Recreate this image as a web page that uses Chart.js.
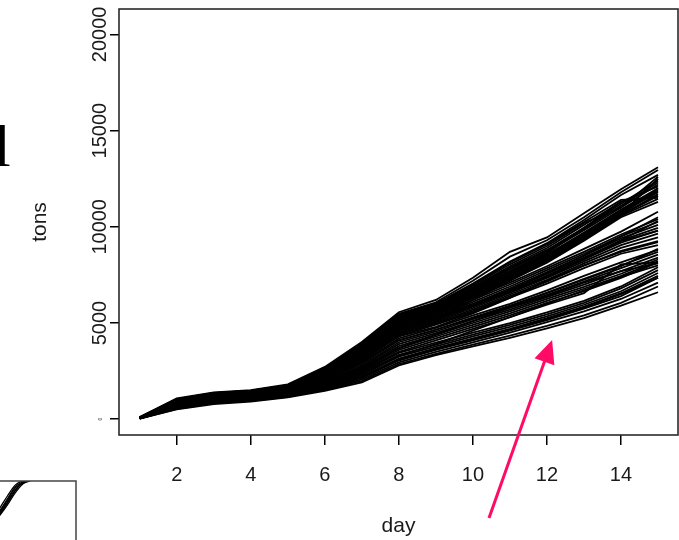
<!DOCTYPE html>
<html>
<head>
<meta charset="utf-8">
<script src="https://cdn.jsdelivr.net/npm/chart.js@4.4.1/dist/chart.umd.min.js"></script>
<style>
  html, body { margin: 0; padding: 0; background: #fff; }
  #wrap { position: relative; width: 679px; height: 540px; overflow: hidden; background: #fff; }
  #main { position: absolute; left: 0; top: 0; }
  #inset { position: absolute; left: 0; top: 479px; }
  #heading { position: absolute; left: -6px; top: 116px; font-family: "Liberation Serif", serif;
             font-size: 60px; line-height: 60px; color: #000; white-space: nowrap; }
</style>
</head>
<body>
<div id="wrap">
  <div id="heading">l</div>
  <canvas id="main" width="679" height="540"></canvas>
  <canvas id="inset" width="77" height="61"></canvas>
</div>
<script>
// Cumulative tons per day, one array per simulated run.
const days = [1, 2, 3, 4, 5, 6, 7, 8, 9, 10, 11, 12, 13, 14, 15];
const xTicks = [2, 4, 6, 8, 10, 12, 14];
const yTicks = [0, 5000, 10000, 15000, 20000];
const yTickLabels = ['0', '5000', '10000', '15000', '20000'];

// Fast-growing runs (upper bundle)
const upperRuns = [
  [110, 1080, 1400, 1510, 1810, 2720, 4020, 5560, 6200, 7350, 8700, 9450, 10700, 11950, 13100],
  [100, 1050, 1370, 1490, 1770, 2650, 3950, 5480, 6080, 7200, 8450, 9300, 10500, 11800, 12950],
  [95, 1040, 1360, 1480, 1760, 2610, 3900, 5450, 6010, 7050, 8200, 9150, 10350, 11650, 12700],
  [90, 1010, 1340, 1470, 1740, 2590, 3870, 5420, 5960, 6950, 8050, 9000, 10200, 11000, 12600],
  [85, 1000, 1330, 1450, 1730, 2560, 3820, 5380, 5920, 6880, 7950, 8900, 10100, 11300, 11600],
  [85, 980, 1320, 1440, 1710, 2540, 3790, 5330, 5880, 6800, 7880, 8800, 9950, 11200, 12400],
  [80, 970, 1300, 1430, 1700, 2510, 3760, 5300, 5830, 6750, 7800, 8750, 9900, 11100, 12300],
  [80, 960, 1290, 1420, 1690, 2490, 3730, 5270, 5800, 6700, 7720, 8680, 9820, 11000, 12200],
  [75, 950, 1290, 1410, 1680, 2470, 3710, 5230, 5760, 6650, 7680, 8620, 9950, 11300, 12100],
  [75, 940, 1280, 1400, 1670, 2450, 3690, 5200, 5720, 6600, 7620, 8560, 9700, 10900, 12000],
  [70, 930, 1270, 1400, 1660, 2430, 3660, 5160, 5680, 6560, 7560, 8500, 9640, 10850, 11900],
  [70, 920, 1260, 1390, 1650, 2410, 3640, 5120, 5640, 6520, 7500, 8440, 9580, 10780, 11850],
  [65, 910, 1250, 1380, 1640, 2390, 3610, 5080, 5600, 6480, 7440, 8380, 9520, 10720, 11800],
  [65, 900, 1240, 1370, 1630, 2370, 3590, 5040, 5560, 6430, 7380, 8320, 9460, 10660, 12500],
  [60, 890, 1230, 1360, 1620, 2350, 3560, 5000, 5520, 6390, 7320, 8260, 9400, 10600, 11600],
  [60, 880, 1220, 1350, 1610, 2330, 3540, 4970, 5480, 6350, 7260, 8200, 9340, 10560, 11450],
  [55, 870, 1210, 1350, 1600, 2310, 3510, 4940, 5440, 6300, 7200, 8140, 9280, 10500, 11300],
  [100, 1030, 1350, 1460, 1750, 2600, 3880, 5440, 5990, 7000, 8150, 9100, 10250, 11400, 11500]
];

// Runs in the middle of the spread
const middleRuns = [
  [95, 990, 1300, 1400, 1700, 2400, 3500, 4900, 5500, 6300, 7100, 7950, 8850, 9750, 10780],
  [90, 960, 1280, 1380, 1670, 2350, 3420, 4820, 5420, 6200, 7000, 7850, 8700, 9600, 10400],
  [90, 940, 1260, 1360, 1640, 2300, 3350, 4750, 5350, 6100, 6900, 7750, 8600, 9500, 10250],
  [85, 910, 1240, 1340, 1610, 2250, 3300, 4680, 5280, 6000, 6800, 7650, 8500, 9400, 10100],
  [80, 890, 1220, 1320, 1590, 2210, 3250, 4620, 5220, 5920, 6720, 7550, 8400, 9300, 9950],
  [80, 870, 1200, 1300, 1570, 2170, 3200, 4560, 5160, 5850, 6640, 7450, 8300, 9180, 9800],
  [75, 850, 1180, 1290, 1550, 2130, 3150, 4500, 5100, 5780, 6560, 7350, 8200, 9050, 9650],
  [70, 830, 1160, 1270, 1530, 2090, 3100, 4440, 5040, 5700, 6480, 7250, 8100, 8900, 9450],
  [70, 810, 1140, 1250, 1510, 2050, 3050, 4380, 4980, 5620, 6400, 7150, 7980, 8750, 9250],
  [65, 790, 1120, 1230, 1490, 2010, 3000, 4320, 4920, 5550, 6320, 7050, 7850, 8600, 9050]
];

// Slower runs
const slowRuns = [
  [70, 800, 1120, 1240, 1480, 2000, 2950, 4200, 4750, 5400, 6000, 6700, 7450, 8150, 8800],
  [65, 780, 1100, 1220, 1460, 1960, 2880, 4100, 4650, 5300, 5900, 6580, 7300, 8000, 8700],
  [60, 760, 1080, 1200, 1440, 1920, 2800, 4000, 4560, 5200, 5800, 6460, 7150, 7850, 8550],
  [60, 740, 1060, 1180, 1420, 1880, 2740, 3900, 4470, 5100, 5700, 6350, 7000, 7700, 8400],
  [55, 720, 1040, 1160, 1400, 1850, 2680, 3800, 4380, 5000, 5600, 6250, 6880, 7560, 8300],
  [55, 700, 1020, 1140, 1380, 1820, 2620, 3700, 4300, 4900, 5500, 6150, 6780, 7450, 8200],
  [50, 680, 1000, 1120, 1360, 1790, 2560, 3600, 4200, 4800, 5400, 6050, 6650, 7350, 8150],
  [50, 660, 980, 1100, 1340, 1760, 2500, 3500, 4100, 4700, 5300, 5950, 6550, 8050, 8150]
];

// Slowest runs (lower edge)
const lowestRuns = [
  [50, 700, 960, 1080, 1300, 1720, 2450, 3450, 3980, 4500, 5000, 5550, 6150, 6900, 7900],
  [45, 680, 940, 1060, 1280, 1690, 2380, 3350, 3880, 4400, 4900, 5450, 6050, 6800, 7750],
  [45, 650, 920, 1040, 1260, 1660, 2300, 3250, 3780, 4300, 4800, 5350, 5950, 6650, 7600],
  [40, 620, 900, 1020, 1240, 1630, 2220, 3150, 3700, 4200, 4700, 5250, 5850, 6550, 7450],
  [40, 600, 880, 1000, 1220, 1600, 2150, 3050, 3600, 4100, 4600, 5150, 5750, 6400, 7350],
  [35, 570, 850, 980, 1190, 1560, 2070, 2950, 3500, 4000, 4500, 5050, 5600, 6250, 7100],
  [35, 540, 820, 950, 1160, 1520, 1990, 2870, 3400, 3880, 4350, 4850, 5400, 6050, 6900],
  [30, 510, 790, 920, 1130, 1480, 1920, 2800, 3330, 3780, 4230, 4720, 5250, 5900, 6600]
];

// Runs that change pace and cross the other bundles
const crossingRuns = [
  [60, 850, 1180, 1300, 1560, 2200, 3300, 4700, 5300, 6200, 7200, 8200, 9300, 10600, 12000],
  [90, 1000, 1330, 1450, 1720, 2500, 3650, 4900, 5300, 5900, 6600, 7400, 8300, 9300, 10300],
  [70, 880, 1200, 1310, 1560, 2150, 3100, 4300, 4800, 5500, 6300, 7200, 8000, 8700, 9200],
  [50, 700, 1000, 1120, 1350, 1800, 2600, 3700, 4400, 5100, 5800, 6400, 7100, 7700, 8100],
  [40, 620, 900, 1020, 1240, 1650, 2300, 3300, 3900, 4600, 5300, 6000, 6700, 7400, 8000],
  [80, 940, 1270, 1390, 1650, 2380, 3500, 4800, 5350, 6000, 6700, 7600, 8500, 9500, 10500],
  [85, 960, 1290, 1400, 1680, 2450, 3600, 5050, 5650, 6500, 7350, 8300, 9400, 10600, 11700],
  [65, 800, 1130, 1250, 1500, 2050, 2950, 4100, 4650, 5250, 5850, 6550, 7250, 7950, 8850],
  [45, 580, 860, 990, 1200, 1580, 2200, 3100, 3650, 4150, 4650, 5200, 5800, 6500, 7350],
  [75, 920, 1250, 1370, 1630, 2300, 3400, 4650, 5200, 5900, 6650, 7450, 8350, 9250, 9800]
];

// Pointer arrow, in (day, tons)
const arrowTail = [10.435, -5135];
const arrowTip = [12.14, 4116];

// Corner of the neighbouring panel
const insetX = [-1, 0, 1, 2, 3, 4];
const insetRuns = [
  [3.0, 4.6, 6.5, 8.5, 9.7, 10.4],
  [3.4, 5.0, 7.0, 9.0, 9.9, 10.5],
  [3.8, 5.5, 7.5, 9.3, 10.1, 10.6],
  [2.6, 4.2, 6.0, 8.0, 9.5, 10.3],
  [3.2, 4.8, 6.8, 8.8, 9.6, 10.0],
  [2.9, 4.4, 6.3, 8.3, 9.8, 10.2]
];

const FAMILY = '"Liberation Sans", Arial, Helvetica, sans-serif';
const TEXT = '#1a1a1a';
const TICK_SIZE = 20;

const allRuns = [...upperRuns, ...middleRuns, ...slowRuns, ...lowestRuns, ...crossingRuns];
const datasets = allRuns.map((run, i) => ({
  label: 'run ' + (i + 1),
  data: run.map((v, j) => ({ x: days[j], y: v })),
  borderColor: '#000',
  borderWidth: 1.8,
  pointRadius: 0,
  tension: 0,
  fill: false
}));

// keep rotated y labels centred about 100px from the left edge
const m = document.createElement('canvas').getContext('2d');
m.font = TICK_SIZE + 'px ' + FAMILY;
const widest = m.measureText('20000').width;
const yTickLen = 9;
const yPad = 119 - 100.5 - widest / 2 - yTickLen;

const framePlugin = {
  id: 'frame',
  afterDatasetsDraw(chart) {
    const { ctx, chartArea: a } = chart;
    ctx.save();
    ctx.strokeStyle = '#2a2a2a';
    ctx.lineWidth = 1.6;
    ctx.strokeRect(a.left, a.top, a.right - a.left, a.bottom - a.top);
    ctx.restore();
  }
};

const arrowPlugin = {
  id: 'arrow',
  afterDraw(chart) {
    const { ctx, scales: { x, y } } = chart;
    const x1 = x.getPixelForValue(arrowTail[0]), y1 = y.getPixelForValue(arrowTail[1]);
    const x2 = x.getPixelForValue(arrowTip[0]), y2 = y.getPixelForValue(arrowTip[1]);
    const dx = x2 - x1, dy = y2 - y1, len = Math.hypot(dx, dy);
    const ux = dx / len, uy = dy / len;
    const headLen = 23, headHalf = 10.5;
    const bx = x2 - ux * headLen, by = y2 - uy * headLen;
    ctx.save();
    ctx.strokeStyle = '#ff0a64';
    ctx.fillStyle = '#ff0a64';
    ctx.lineWidth = 3;
    ctx.beginPath();
    ctx.moveTo(x1, y1);
    ctx.lineTo(bx + ux * 2, by + uy * 2);
    ctx.stroke();
    ctx.beginPath();
    ctx.moveTo(x2, y2);
    ctx.lineTo(bx - uy * headHalf, by + ux * headHalf);
    ctx.lineTo(bx + uy * headHalf, by - ux * headHalf);
    ctx.closePath();
    ctx.fill();
    ctx.restore();
  }
};

new Chart(document.getElementById('main'), {
  type: 'line',
  data: { datasets },
  plugins: [framePlugin, arrowPlugin],
  options: {
    responsive: false,
    animation: false,
    devicePixelRatio: 1,
    layout: { padding: { top: 9, right: 1, left: 0, bottom: 0 } },
    plugins: { legend: { display: false }, tooltip: { enabled: false } },
    scales: {
      x: {
        type: 'linear',
        min: 0.44,
        max: 15.54,
        position: 'bottom',
        afterBuildTicks(s) { s.ticks = xTicks.map(v => ({ value: v })); },
        afterFit(s) { s.height = 105; s.paddingLeft = 0; s.paddingRight = 0; },
        grid: { display: true, drawOnChartArea: false, drawTicks: true, tickLength: 10, color: '#000', lineWidth: 1.5 },
        border: { display: false },
        ticks: {
          padding: 18,
          color: TEXT,
          maxRotation: 0,
          autoSkip: false,
          font: { family: FAMILY, size: TICK_SIZE },
          callback: v => String(v)
        },
        title: {
          display: true, text: 'day', color: TEXT,
          font: { family: FAMILY, size: 21 },
          padding: { top: 0, bottom: 1 }
        }
      },
      y: {
        type: 'linear',
        min: -820,
        max: 21320,
        position: 'left',
        afterBuildTicks(s) { s.ticks = yTicks.map(v => ({ value: v })); },
        afterFit(s) { s.width = 119; s.paddingTop = 0; s.paddingBottom = 0; },
        grid: { display: true, drawOnChartArea: false, drawTicks: true, tickLength: yTickLen, color: '#000', lineWidth: 1.5 },
        border: { display: false },
        ticks: {
          minRotation: 90,
          maxRotation: 90,
          crossAlign: 'center',
          padding: yPad,
          color: TEXT,
          autoSkip: false,
          font: ctx => ({ family: FAMILY, size: (ctx.tick && ctx.tick.value === 0) ? 5 : TICK_SIZE }),
          callback: v => yTickLabels[yTicks.indexOf(v)]
        },
        title: {
          display: true, text: 'tons', color: TEXT,
          font: { family: FAMILY, size: 21 },
          padding: { top: 27.4, bottom: 0 }
        }
      }
    }
  }
});

// neighbouring panel corner
const insetFrame = {
  id: 'insetFrame',
  afterDatasetsDraw(chart) {
    const { ctx, chartArea: a } = chart;
    ctx.save();
    ctx.strokeStyle = '#444';
    ctx.lineWidth = 1.5;
    ctx.beginPath();
    ctx.moveTo(a.left - 2, a.top);
    ctx.lineTo(a.right, a.top);
    ctx.lineTo(a.right, a.bottom + 2);
    ctx.stroke();
    ctx.restore();
  }
};

new Chart(document.getElementById('inset'), {
  type: 'line',
  data: {
    datasets: insetRuns.map((run, i) => ({
      label: 'panel ' + (i + 1),
      data: run.map((v, j) => ({ x: insetX[j], y: v })),
      borderColor: '#000', borderWidth: 1.3, pointRadius: 0, tension: 0.3, fill: false
    }))
  },
  plugins: [insetFrame],
  options: {
    responsive: false,
    animation: false,
    devicePixelRatio: 1,
    layout: { padding: { top: 2, right: 1, left: 0, bottom: 0 } },
    plugins: { legend: { display: false }, tooltip: { enabled: false } },
    scales: {
      x: { type: 'linear', min: 0, max: 10, display: false },
      y: { type: 'linear', min: 0, max: 10, display: false }
    }
  }
});
</script>
</body>
</html>
